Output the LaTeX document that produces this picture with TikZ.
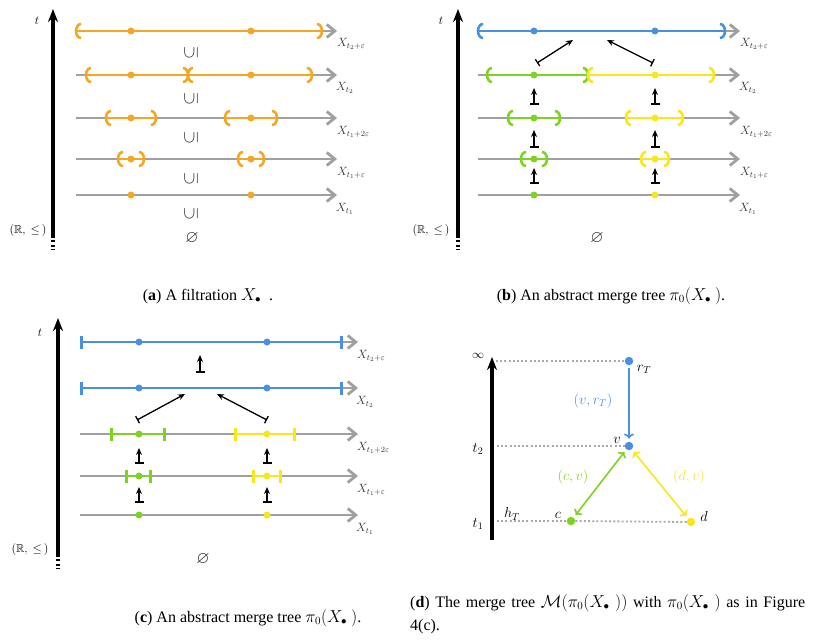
\documentclass[tikz,border=0pt]{standalone}
\usepackage{amssymb}
\usepackage{fontspec}
\setmainfont{Liberation Serif}
\usetikzlibrary{arrows.meta}
\definecolor{corange}{HTML}{F5A623}
\definecolor{cblue}{HTML}{4A90E2}
\definecolor{cgreen}{HTML}{7ED321}
\definecolor{cyellow}{HTML}{F8E71C}
\definecolor{lgray}{HTML}{A0A0A0}
\definecolor{dotgray}{HTML}{AAAAAA}
\tikzset{
  axisline/.style={line width=3.2pt, -{Stealth[length=13pt,width=10pt]}},
  axisdots/.style={line width=3.2pt, dash pattern=on 2pt off 2.5pt},
  grayline/.style={draw=lgray, line width=2.8pt, -{Straight Barb[length=8pt,width=13pt]}},
  segline/.style={line width=2.8pt},
  brk/.style={line width=2.6pt},
  barseg/.style={line width=2.6pt, {Bar[width=13pt]}-{Bar[width=13pt]}},
  mapsto/.style={line width=1.5pt, {Bar[width=9pt,line width=1.8pt]}-{Stealth[length=7pt,width=6pt]}},
  dmapsto/.style={line width=1.3pt, {Bar[width=8pt]}-{Stealth[length=7pt,width=6pt]}},
  dotnode/.style={circle, inner sep=0pt, minimum size=7pt},
  bigdot/.style={circle, inner sep=0pt, minimum size=8.5pt},
  xlab/.style={anchor=west, inner sep=0pt, text=black!80, font=\fontsize{12}{12}\selectfont},
  sublab/.style={inner sep=0pt, text=black!85, font=\fontsize{17}{17}\selectfont},
  smalllab/.style={inner sep=0pt, font=\fontsize{11.5}{11.5}\selectfont},
  captext/.style={inner sep=0pt, font=\fontsize{16}{17}\selectfont},
  dlab/.style={inner sep=0pt, font=\fontsize{14}{14}\selectfont},
  guide/.style={draw=dotgray, line width=1.8pt, dash pattern=on 2pt off 2.2pt},
  treeedge/.style={line width=1.6pt, shorten <=3pt, shorten >=3pt},
}
% interval with round brackets: colour, x-left, x-right, y
\newcommand\brseg[4]{%
  \draw[segline, #1] (#2,#4) -- (#3,#4);
  \draw[brk, #1] ($(#2,#4)+(5,7)$) arc[start angle=90, end angle=270, x radius=5, y radius=7];
  \draw[brk, #1] ($(#3,#4)+(-5,7)$) arc[start angle=90, end angle=-90, x radius=5, y radius=7];
}
\usetikzlibrary{calc}
\begin{document}
\begin{tikzpicture}[x=1pt,y=-1pt]
\useasboundingbox (0,0) rectangle (817,642);
\fill[white] (0,0) rectangle (817,642);

% ================= Panel (a) =================
\coordinate (aaxb) at (53,238);
\coordinate (aaxt) at (53,9);
\draw[axisline] (aaxb) -- (aaxt);
\draw[axisdots] (53,240) -- (53,250);
\node[smalllab] (at) at (37,21) {$t$};
\node[smalllab] (aR) at (28,230) {$(\mathbb{R},\ \leq\,)$};
\foreach \y in {31,75,118,159,195} \draw[grayline] (76,\y) -- (337,\y);
\brseg{corange}{76}{322}{31}
\brseg{corange}{86}{188}{75}
\brseg{corange}{188}{312}{75}
\brseg{corange}{106}{156}{118}
\brseg{corange}{225}{277}{118}
\brseg{corange}{118}{144}{159}
\brseg{corange}{238}{264}{159}
\foreach \y [count=\i] in {31,75,118,159,195} {
  \node[dotnode, fill=corange] (aL\i) at (131,\y) {};
  \node[dotnode, fill=corange] (aR\i) at (251,\y) {};
}
\node[xlab] (ax1) at (337,44) {$X_{t_2+\varepsilon}$};
\node[xlab] (ax2) at (336,88) {$X_{t_2}$};
\node[xlab] (ax3) at (337,132) {$X_{t_1+2\varepsilon}$};
\node[xlab] (ax4) at (337,173) {$X_{t_1+\varepsilon}$};
\node[xlab] (ax5) at (336,209) {$X_{t_1}$};
\foreach \y [count=\i] in {53,99,138,179,214}
  \node[sublab, rotate=90] (as\i) at (191,\y) {$\subseteq$};
\node[sublab] (aempty) at (192,238) {$\varnothing$};

% ================= Panel (b) =================
\draw[axisline] (458,238) -- (458,9);
\draw[axisdots] (458,240) -- (458,250);
\node[smalllab] (bt) at (441,21) {$t$};
\node[smalllab] (bR) at (431,230) {$(\mathbb{R},\ \leq\,)$};
\foreach \y in {31,75,118,159,195} \draw[grayline] (478,\y) -- (740,\y);
\brseg{cblue}{478}{725}{31}
\brseg{cgreen}{487}{588}{75}
\brseg{cyellow}{588}{714}{75}
\brseg{cgreen}{508}{560}{118}
\brseg{cyellow}{626}{683}{118}
\brseg{cgreen}{521}{547}{159}
\brseg{cyellow}{641}{669}{159}
\node[dotnode, fill=cblue] (bL1) at (534,31) {};
\node[dotnode, fill=cblue] (bR1) at (655,31) {};
\foreach \y [count=\i from 2] in {75,118,159,195} {
  \node[dotnode, fill=cgreen] (bL\i) at (534,\y) {};
  \node[dotnode, fill=cyellow] (bR\i) at (655,\y) {};
}
\foreach \x in {534,655} {
  \draw[mapsto] (\x,105) -- (\x,88);
  \draw[mapsto] (\x,148) -- (\x,130);
  \draw[mapsto] (\x,184) -- (\x,168);
}
\draw[dmapsto] (537,63) -- (573,40);
\draw[dmapsto] (653,63) -- (607,40);
\node[xlab] (bx1) at (740,44) {$X_{t_2+\varepsilon}$};
\node[xlab] (bx2) at (739,88) {$X_{t_2}$};
\node[xlab] (bx3) at (740,132) {$X_{t_1+2\varepsilon}$};
\node[xlab] (bx4) at (740,173) {$X_{t_1+\varepsilon}$};
\node[xlab] (bx5) at (739,209) {$X_{t_1}$};
\node[sublab] (bempty) at (597,238) {$\varnothing$};

% ================= Panel (c) =================
\draw[axisline] (58,557) -- (58,318);
\draw[axisdots] (58,559) -- (58,569);
\node[smalllab] (ct) at (40,333) {$t$};
\node[smalllab] (cR) at (30,549) {$(\mathbb{R},\ \leq\,)$};
\foreach \y in {342,388,434,476,515} \draw[grayline] (80,\y) -- (358,\y);
\draw[barseg, cblue] (80,342) -- (343,342);
\draw[barseg, cblue] (80,388) -- (343,388);
\draw[barseg, cgreen] (110,434) -- (166,434);
\draw[barseg, cyellow] (234,434) -- (296,434);
\draw[barseg, cgreen] (125,476) -- (152,476);
\draw[barseg, cyellow] (252,476) -- (282,476);
\foreach \y [count=\i] in {342,388} {
  \node[dotnode, fill=cblue] (cL\i) at (139,\y) {};
  \node[dotnode, fill=cblue] (cR\i) at (267,\y) {};
}
\foreach \y [count=\i from 3] in {434,476,515} {
  \node[dotnode, fill=cgreen] (cL\i) at (139,\y) {};
  \node[dotnode, fill=cyellow] (cR\i) at (267,\y) {};
}
\draw[mapsto] (200,373) -- (200,355);
\foreach \x in {139,267} {
  \draw[mapsto] (\x,464) -- (\x,448);
  \draw[mapsto] (\x,503) -- (\x,487);
}
\draw[dmapsto] (137,420) -- (185,394);
\draw[dmapsto] (267,420) -- (217,394);
\node[xlab] (cx1) at (357,356) {$X_{t_2+\varepsilon}$};
\node[xlab] (cx2) at (356,402) {$X_{t_2}$};
\node[xlab] (cx3) at (357,448) {$X_{t_1+2\varepsilon}$};
\node[xlab] (cx4) at (357,490) {$X_{t_1+\varepsilon}$};
\node[xlab] (cx5) at (356,529) {$X_{t_1}$};
\node[sublab] (cempty) at (203,559) {$\varnothing$};

% ================= Panel (d) =================
\draw[axisline] (492,540) -- (492,357);
\node[dlab, font=\fontsize{12}{12}\selectfont] (dinf) at (478,356) {$\infty$};
\node[dlab] (dt2) at (478,449) {$t_2$};
\node[dlab] (dt1) at (478,524) {$t_1$};
\node[bigdot, fill=cblue] (rT) at (629,361) {};
\node[bigdot, fill=cblue] (v) at (629,446) {};
\node[bigdot, fill=cgreen] (c) at (571,521) {};
\node[bigdot, fill=cyellow] (d) at (691,522) {};
\coordinate (g1) at (496,361);
\coordinate (g2) at (497,446);
\coordinate (g3) at (497,521);
\draw[guide] (g1) -- (rT.west);
\draw[guide] (g2) -- (v.west);
\draw[guide] (g3) -- (c.west);
\draw[guide] (c.east) -- (d.west);
\draw[treeedge, cblue, -{To[length=5pt,width=10pt]}] (rT) -- (v);
\draw[treeedge, cgreen, {To[length=5pt,width=10pt]}-{To[length=5pt,width=10pt]}] (c) -- (v);
\draw[treeedge, cyellow, {To[length=5pt,width=10pt]}-{To[length=5pt,width=10pt]}] (d) -- (v);
\node[dlab] (lrT) at (644,369) {$r_T$};
\node[dlab] (lv) at (617,440) {$v$};
\node[dlab] (lc) at (558,515) {$c$};
\node[dlab] (ld) at (704,516) {$d$};
\node[dlab] (lhT) at (512,514) {$h_T$};
\node[dlab, text=cblue] (evr) at (593,401) {$(v, r_T)$};
\node[dlab, text=cgreen] (ecv) at (573,477) {$(c, v)$};
\node[dlab, text=cyellow] (edv) at (689,477) {$(d, v)$};

% ================= Captions =================
\node[captext] (capa) at (208,296) {(\textbf{a}) A filtration $X_\bullet$\ \ .};
\node[captext] (capb) at (611,296) {(\textbf{b}) An abstract merge tree $\pi_0(X_\bullet\ )$.};
\node[captext] (capc) at (248,618) {(\textbf{c}) An abstract merge tree $\pi_0(X_\bullet\ )$.};
\node[captext, anchor=north west, text width=395pt, align=justify, font=\fontsize{16}{23}\selectfont] (capd) at (410,594)
  {(\textbf{d}) The merge tree $\mathcal{M}(\pi_0(X_\bullet\ ))$ with $\pi_0(X_\bullet\ )$ as in Figure\linebreak 4(c).};
\end{tikzpicture}
\end{document}
